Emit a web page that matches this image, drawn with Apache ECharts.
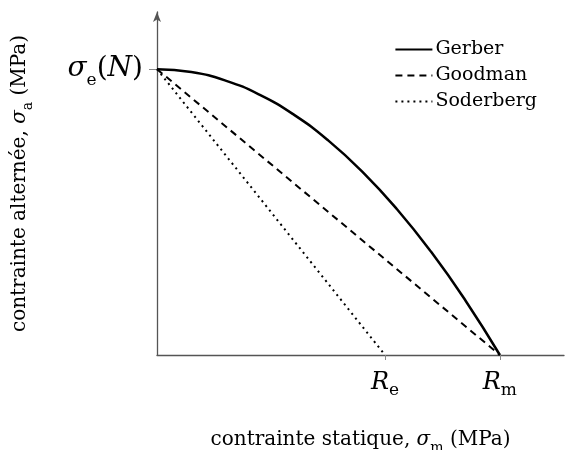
<!DOCTYPE html>
<html>
<head>
<meta charset="utf-8">
<script src="https://cdn.jsdelivr.net/npm/echarts@6/dist/echarts.min.js"></script>
<style>
html,body{margin:0;padding:0;background:#fff;}
#chart{width:565px;height:450px;}
</style>
</head>
<body>
<div id="chart"></div>
<script>
// Mean stress as a fraction of Rm
const sigmaM = [0, 0.1, 0.2, 0.3, 0.4, 0.5, 0.6, 0.7, 0.8, 0.9, 1.0];
// Gerber parabola: alternating stress as a fraction of sigma_e(N)
const gerber = [1, 0.99, 0.96, 0.91, 0.84, 0.75, 0.64, 0.51, 0.36, 0.19, 0];
// Goodman straight line endpoints
const goodmanX = [0, 1.0];
const goodmanY = [1, 0];
// Soderberg straight line endpoints (Re / Rm ≈ 0.665)
const soderbergX = [0, 0.665];
const soderbergY = [1, 0];
// Named tick positions
const xTickValues = [0.665, 1.0];
const yTickValues = [1];

const serif = 'DejaVu Serif';
const chart = echarts.init(document.getElementById('chart'));

const zip = (xs, ys) => xs.map((x, i) => [x, ys[i]]);

chart.setOption({
  animation: false,
  backgroundColor: '#fff',
  grid: { left: 157, right: 1, top: 12, bottom: 95, containLabel: false, outerBoundsMode: 'none' },
  legend: {
    right: 23, top: 35, orient: 'vertical',
    itemWidth: 37, itemHeight: 14, itemGap: 7,
    itemStyle: { opacity: 0 },
    textStyle: { fontFamily: serif, fontSize: 19, color: '#000', padding: [0, 0, 0, -2] },
    data: ['Gerber', 'Goodman', 'Soderberg']
  },
  xAxis: {
    type: 'value', min: 0, max: 1.187,
    splitLine: { show: false },
    axisLine: { lineStyle: { color: '#555', width: 1.3 } },
    axisTick: { show: true, customValues: xTickValues, length: 5, lineStyle: { color: '#888' } },
    axisLabel: {
      customValues: xTickValues,
      margin: 16,
      formatter: v => '{r|R}{s|' + (Math.abs(v - 1) < 1e-6 ? 'm' : 'e') + '}',
      rich: {
        r: { fontFamily: serif, fontStyle: 'italic', fontSize: 24, color: '#000', verticalAlign: 'bottom' },
        s: { fontFamily: serif, fontSize: 17, color: '#000', verticalAlign: 'bottom', padding: [0, 0, -4, 0] }
      }
    },
    name: '{a|contrainte statique, }{g|σ}{s|m}{a| (MPa)}',
    nameLocation: 'middle', nameGap: 75,
    nameTextStyle: {
      rich: {
        a: { fontFamily: serif, fontSize: 20, color: '#000' },
        g: { fontFamily: serif, fontStyle: 'italic', fontSize: 20, color: '#000' },
        s: { fontFamily: serif, fontSize: 14, color: '#000', verticalAlign: 'bottom', padding: [0, 0, -5, 0] }
      }
    }
  },
  yAxis: {
    type: 'value', min: 0, max: 1.2,
    splitLine: { show: false },
    axisLine: { symbol: ['none', 'arrow'], symbolSize: [6, 10], lineStyle: { color: '#555', width: 1.3 } },
    axisTick: { show: true, customValues: yTickValues, length: 8, lineStyle: { color: '#888' } },
    axisLabel: {
      customValues: yTickValues,
      margin: 14,
      formatter: () => '{g|σ}{s|e}{a|(}{n|N}{a|)}',
      rich: {
        g: { fontFamily: serif, fontStyle: 'italic', fontSize: 28, color: '#000' },
        s: { fontFamily: serif, fontSize: 17, color: '#000', verticalAlign: 'bottom', padding: [0, 0, -6, 0] },
        a: { fontFamily: serif, fontSize: 28, color: '#000' },
        n: { fontFamily: serif, fontStyle: 'italic', fontSize: 28, color: '#000' }
      }
    },
    name: '{a|contrainte alternée, }{g|σ}{s|a}{a| (MPa)}',
    nameLocation: 'middle', nameGap: 127, nameRotate: 90,
    nameTextStyle: {
      rich: {
        a: { fontFamily: serif, fontSize: 20, color: '#000' },
        g: { fontFamily: serif, fontStyle: 'italic', fontSize: 20, color: '#000' },
        s: { fontFamily: serif, fontSize: 14, color: '#000', verticalAlign: 'bottom', padding: [0, 0, -5, 0] }
      }
    }
  },
  series: [
    {
      name: 'Gerber', type: 'line', smooth: true, symbol: 'none',
      data: zip(sigmaM, gerber),
      lineStyle: { color: '#000', width: 2.5, type: 'solid' },
      itemStyle: { color: '#000' }
    },
    {
      name: 'Goodman', type: 'line', symbol: 'none',
      data: zip(goodmanX, goodmanY),
      lineStyle: { color: '#000', width: 2, type: [7, 5] },
      itemStyle: { color: '#000' }
    },
    {
      name: 'Soderberg', type: 'line', symbol: 'none',
      data: zip(soderbergX, soderbergY),
      lineStyle: { color: '#000', width: 2, type: [2, 4] },
      itemStyle: { color: '#000' }
    }
  ]
});
</script>
</body>
</html>
